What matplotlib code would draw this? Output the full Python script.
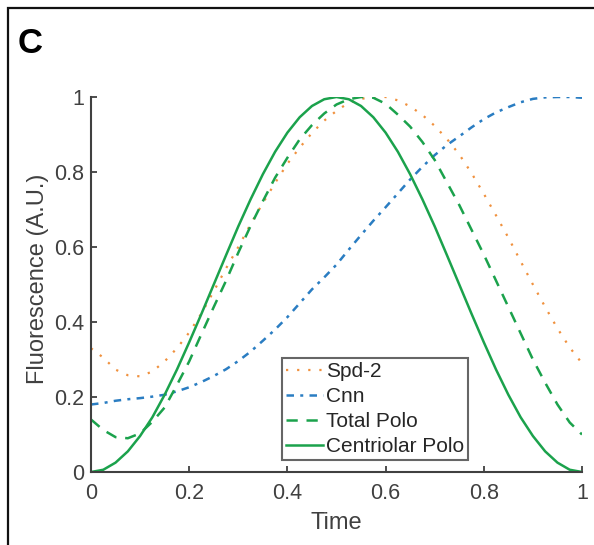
import numpy as np
import matplotlib
matplotlib.use("Agg")
import matplotlib.pyplot as plt
from matplotlib.patches import Rectangle

plt.rcParams['font.family'] = ['Liberation Sans', 'DejaVu Sans']

time = [0.000, 0.025, 0.050, 0.075, 0.100, 0.125, 0.150, 0.175, 0.200, 0.225,
        0.250, 0.275, 0.300, 0.325, 0.350, 0.375, 0.400, 0.425, 0.450, 0.475,
        0.500, 0.525, 0.550, 0.575, 0.600, 0.625, 0.650, 0.675, 0.700, 0.725,
        0.750, 0.775, 0.800, 0.825, 0.850, 0.875, 0.900, 0.925, 0.950, 0.975, 1.000]

spd2 = [0.330, 0.305, 0.273, 0.258, 0.255, 0.268, 0.295, 0.330, 0.372, 0.423,
        0.482, 0.543, 0.600, 0.661, 0.717, 0.771, 0.822, 0.865, 0.904, 0.937,
        0.963, 0.985, 0.995, 1.000, 1.000, 0.991, 0.975, 0.952, 0.923, 0.888,
        0.847, 0.797, 0.742, 0.684, 0.625, 0.562, 0.500, 0.440, 0.383, 0.332, 0.290]

cnn = [0.180, 0.184, 0.190, 0.194, 0.197, 0.201, 0.206, 0.215, 0.226, 0.240,
       0.256, 0.274, 0.296, 0.321, 0.350, 0.380, 0.413, 0.450, 0.487, 0.519,
       0.553, 0.593, 0.632, 0.670, 0.706, 0.743, 0.780, 0.814, 0.845, 0.872,
       0.895, 0.919, 0.941, 0.959, 0.973, 0.986, 0.995, 0.999, 1.000, 1.000, 0.998]

total_polo = [0.140, 0.112, 0.093, 0.090, 0.103, 0.134, 0.172, 0.232, 0.295, 0.368,
              0.440, 0.510, 0.585, 0.656, 0.722, 0.785, 0.838, 0.887, 0.925, 0.956,
              0.980, 0.994, 1.000, 0.998, 0.982, 0.953, 0.921, 0.880, 0.832, 0.772,
              0.712, 0.646, 0.580, 0.510, 0.440, 0.370, 0.300, 0.238, 0.180, 0.132, 0.100]

centriolar_polo = [0.000, 0.006, 0.025, 0.055, 0.096, 0.146, 0.206, 0.273, 0.346, 0.422,
                   0.500, 0.578, 0.655, 0.727, 0.794, 0.854, 0.905, 0.946, 0.976, 0.994,
                   1.000, 0.994, 0.976, 0.946, 0.905, 0.854, 0.794, 0.727, 0.655, 0.578,
                   0.500, 0.422, 0.346, 0.273, 0.206, 0.146, 0.096, 0.055, 0.025, 0.006, 0.000]

xticks = [0, 0.2, 0.4, 0.6, 0.8, 1]
xticklabels = ['0', '0.2', '0.4', '0.6', '0.8', '1']
yticks = [0, 0.2, 0.4, 0.6, 0.8, 1]
yticklabels = ['0', '0.2', '0.4', '0.6', '0.8', '1']

orange = '#F0913E'
blue = '#2A7DC2'
green = '#1BA24C'
gray = '#404040'

W, H = 594, 545
fig = plt.figure(figsize=(W / 100, H / 100), dpi=100)
ax = fig.add_axes([91 / W, (H - 472) / H, (582 - 91) / W, (472 - 97) / H])

ax.plot(time, spd2, color=orange, lw=1.6, linestyle=(0, (1, 4)), label='Spd-2')
ax.plot(time, cnn, color=blue, lw=1.8, linestyle=(0, (3, 2.5, 1.2, 2.5)), label='Cnn')
ax.plot(time, total_polo, color=green, lw=1.8, linestyle=(0, (4.5, 3.5)), label='Total Polo')
ax.plot(time, centriolar_polo, color=green, lw=1.8, linestyle='-', label='Centriolar Polo')

ax.set_xlim(0, 1)
ax.set_ylim(0, 1)
ax.set_xticks(xticks)
ax.set_xticklabels(xticklabels)
ax.set_yticks(yticks)
ax.set_yticklabels(yticklabels)

for s in ['top', 'right']:
    ax.spines[s].set_visible(False)
for s in ['left', 'bottom']:
    ax.spines[s].set_color(gray)
    ax.spines[s].set_linewidth(1.5)

ax.tick_params(axis='both', direction='in', length=4.5, width=1.3, color=gray,
               labelcolor=gray, labelsize=15.5)
ax.tick_params(axis='x', pad=8)
ax.tick_params(axis='y', pad=5)

ax.set_xlabel('Time', fontsize=17, color=gray)
ax.set_ylabel('Fluorescence (A.U.)', fontsize=17, color=gray)
ax.xaxis.set_label_coords(0.5, (472 - 512) / 375)
ax.yaxis.set_label_coords((49 - 91) / 491, 0.515)

leg = ax.legend(loc='lower left', bbox_to_anchor=((282 - 91) / 491, (472 - 460) / 375),
                fontsize=15, frameon=True, fancybox=False, borderpad=0.2,
                handlelength=1.75, handletextpad=0.15, labelspacing=0.28,
                borderaxespad=0)
leg.get_frame().set_edgecolor(gray)
leg.get_frame().set_linewidth(1.5)
for t in leg.get_texts():
    t.set_color('#262626')

fig.text(18 / W, 1 - 53 / H, 'C', fontsize=25, fontweight='bold', ha='left', va='baseline')

fig.patches.append(Rectangle((8 / W, -0.05), 1.1, (1 - 8 / H) + 0.05, transform=fig.transFigure,
                             fill=False, edgecolor='#111111', linewidth=1.6, clip_on=False))

fig.savefig('out.png', dpi=100)
